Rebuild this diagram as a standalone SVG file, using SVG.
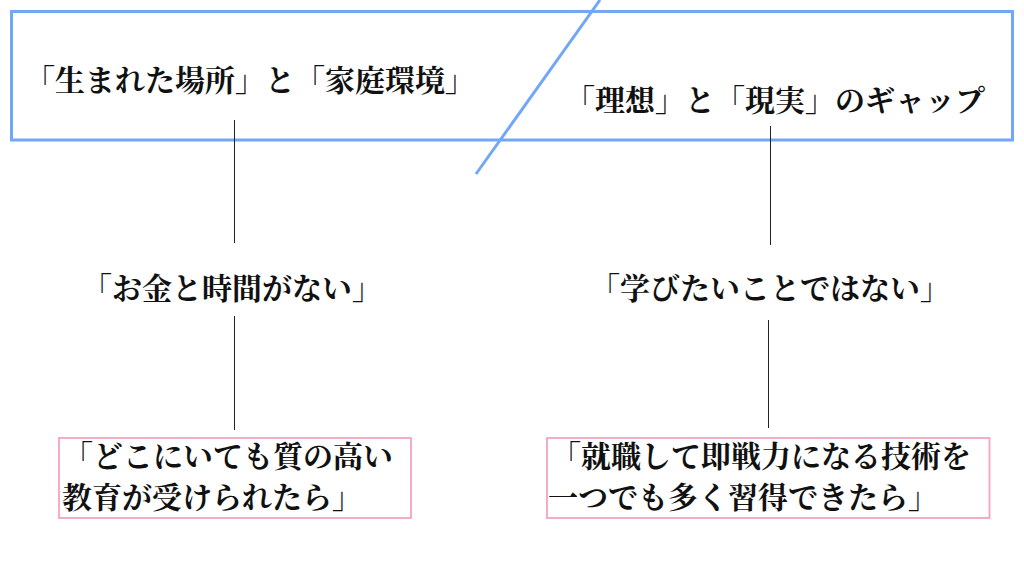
<svg xmlns="http://www.w3.org/2000/svg" width="1024" height="571" viewBox="0 0 1024 571">
<style>
.t{font-family:"Noto Serif CJK JP","Noto Sans CJK JP",serif;font-size:30px;font-weight:700;fill:#111}
.c{stroke:#222;stroke-width:1}
.blue{fill:none;stroke:#72a7f7;stroke-width:3}
.pink{fill:#fff;stroke:#f4a3c3;stroke-width:1.8}
</style>
<rect width="1024" height="571" fill="#fff"/>
<g id="header">
<rect class="blue" x="11.5" y="11.5" width="1001" height="128.5"/>
<line class="blue" x1="600" y1="0" x2="476" y2="174"/>
</g>
<g id="connectors">
<line class="c" x1="234.5" y1="120" x2="234.5" y2="243"/>
<line class="c" x1="234.5" y1="316" x2="234.5" y2="430"/>
<line class="c" x1="770.5" y1="126" x2="770.5" y2="245"/>
<line class="c" x1="768.5" y1="320" x2="768.5" y2="428"/>
</g>
<g id="n1"><text class="t" x="250" y="91" text-anchor="middle">「生まれた場所」と「家庭環境」</text></g>
<g id="n2"><text class="t" x="775" y="111" text-anchor="middle">「理想」と「現実」のギャップ</text></g>
<g id="n3"><text class="t" x="232" y="299" text-anchor="middle">「お金と時間がない」</text></g>
<g id="n4"><text class="t" x="770" y="299" text-anchor="middle">「学びたいことではない」</text></g>
<g id="n5">
<rect class="pink" x="59" y="438" width="352" height="80"/>
<text class="t" x="63" y="467">「どこにいても質の高い</text>
<text class="t" x="62" y="508">教育が受けられたら」</text>
</g>
<g id="n6">
<rect class="pink" x="547" y="438" width="442.5" height="80"/>
<text class="t" x="551" y="467">「就職して即戦力になる技術を</text>
<text class="t" x="548" y="508">一つでも多く習得できたら」</text>
</g>
</svg>
